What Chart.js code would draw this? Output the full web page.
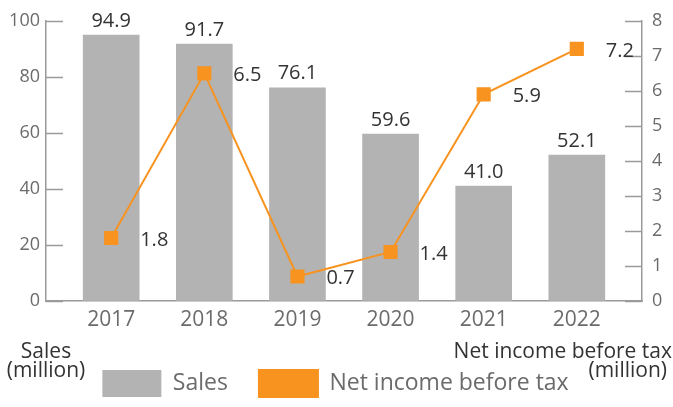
<!DOCTYPE html>
<html>
<head>
<meta charset="utf-8">
<script src="https://cdn.jsdelivr.net/npm/chart.js@4"></script>
<style>
  html, body { margin: 0; padding: 0; background: #fff; }
  #wrap { width: 673px; height: 407px; }
</style>
</head>
<body>
<div id="wrap"><canvas id="salesChart" width="673" height="407"></canvas></div>
<script>
// data
const years = [2017, 2018, 2019, 2020, 2021, 2022];
const sales = [94.9, 91.7, 76.1, 59.6, 41.0, 52.1];
const netIncome = [1.8, 6.5, 0.7, 1.4, 5.9, 7.2];
const salesTicks = [0, 20, 40, 60, 80, 100];
const incomeTicks = [0, 1, 2, 3, 4, 5, 6, 7, 8];

const GRAY = '#b3b3b3';
const ORANGE = '#f7931e';
const AXIS = '#9a9a9a';
const TICK_TEXT = '#6b6b6b';
const DARK = '#333333';
const FONT = "'Open Sans', sans-serif";

// short tick marks pointing into the plot, labels on the points/bars, axis titles
const extras = {
  id: 'extras',
  afterDatasetsDraw(chart) {
    const ctx = chart.ctx;
    const area = chart.chartArea;
    ctx.save();

    ctx.strokeStyle = AXIS;
    ctx.lineWidth = 1.5;
    const yL = chart.scales.y;
    yL.ticks.forEach(t => {
      const py = Math.round(yL.getPixelForValue(t.value)) + 0.5;
      ctx.beginPath();
      ctx.moveTo(area.left, py);
      ctx.lineTo(area.left + 17, py);
      ctx.stroke();
    });
    const yR = chart.scales.y1;
    yR.ticks.forEach(t => {
      const py = Math.round(yR.getPixelForValue(t.value)) + 0.5;
      ctx.beginPath();
      ctx.moveTo(area.right - 17, py);
      ctx.lineTo(area.right, py);
      ctx.stroke();
    });

    ctx.fillStyle = DARK;
    ctx.font = '20px ' + FONT;
    const barMeta = chart.getDatasetMeta(0);
    ctx.textAlign = 'center';
    ctx.textBaseline = 'bottom';
    barMeta.data.forEach((el, i) => {
      ctx.fillText(sales[i].toFixed(1), el.x, el.y - 4);
    });
    const lineMeta = chart.getDatasetMeta(1);
    ctx.textAlign = 'left';
    ctx.textBaseline = 'middle';
    lineMeta.data.forEach((el, i) => {
      ctx.fillText(netIncome[i].toFixed(1), el.x + 29, el.y + 2);
    });

    // axis titles under the axes
    ctx.font = '21px ' + FONT;
    ctx.textBaseline = 'alphabetic';
    ctx.textAlign = 'center';
    ctx.fillText('Sales', area.left, area.bottom + 57);
    ctx.fillText('(million)', area.left, area.bottom + 76);
    ctx.textAlign = 'right';
    ctx.fillText('Net income before tax', chart.width - 1, area.bottom + 57);
    ctx.fillText('(million)', chart.width - 6, area.bottom + 76);
    ctx.restore();
  }
};

new Chart(document.getElementById('salesChart'), {
  type: 'bar',
  data: {
    datasets: [
      {
        type: 'bar',
        label: 'Sales',
        data: years.map((y, i) => ({ x: y, y: sales[i] })),
        backgroundColor: GRAY,
        borderWidth: 0,
        barThickness: 56,
        yAxisID: 'y',
        order: 2
      },
      {
        type: 'line',
        label: 'Net income before tax',
        data: years.map((y, i) => ({ x: y, y: netIncome[i] })),
        borderColor: ORANGE,
        backgroundColor: ORANGE,
        borderWidth: 2,
        pointStyle: 'rect',
        pointRadius: 10,
        pointHoverRadius: 10,
        pointBorderWidth: 0,
        tension: 0,
        yAxisID: 'y1',
        order: 1
      }
    ]
  },
  options: {
    responsive: false,
    animation: false,
    layout: { padding: { left: 8, right: 10, top: 20, bottom: 0 } },
    plugins: {
      tooltip: { enabled: false },
      legend: {
        position: 'bottom',
        labels: {
          boxWidth: 59,
          boxHeight: 27,
          padding: 31,
          color: TICK_TEXT,
          font: { family: FONT, size: 23 },
          sort: (a, b) => a.datasetIndex - b.datasetIndex
        }
      }
    },
    scales: {
      x: {
        type: 'linear',
        offset: false,
        min: 2016.3,
        max: 2022.7,
        afterBuildTicks: (scale) => { scale.ticks = years.map(v => ({ value: v })); },
        afterFit: (scale) => { scale.height = 38; },
        grid: { drawOnChartArea: false, drawTicks: false },
        border: { color: AXIS, width: 1.5 },
        ticks: {
          padding: 6,
          color: TICK_TEXT,
          font: { family: FONT, size: 21 },
          callback: (v) => String(v)
        }
      },
      y: {
        position: 'left',
        min: 0,
        max: 100,
        afterBuildTicks: (scale) => { scale.ticks = salesTicks.map(v => ({ value: v })); },
        afterFit: (scale) => { scale.width = 38; },
        grid: { drawOnChartArea: false, drawTicks: false },
        border: { color: AXIS, width: 1.5 },
        ticks: { padding: 6, color: TICK_TEXT, font: { family: FONT, size: 18 } }
      },
      y1: {
        position: 'right',
        min: 0,
        max: 8,
        afterBuildTicks: (scale) => { scale.ticks = incomeTicks.map(v => ({ value: v })); },
        afterFit: (scale) => { scale.width = 21; },
        grid: { drawOnChartArea: false, drawTicks: false },
        border: { color: AXIS, width: 1.5 },
        ticks: { padding: 10, color: TICK_TEXT, font: { family: FONT, size: 18 } }
      }
    }
  },
  plugins: [extras]
});
</script>
</body>
</html>
